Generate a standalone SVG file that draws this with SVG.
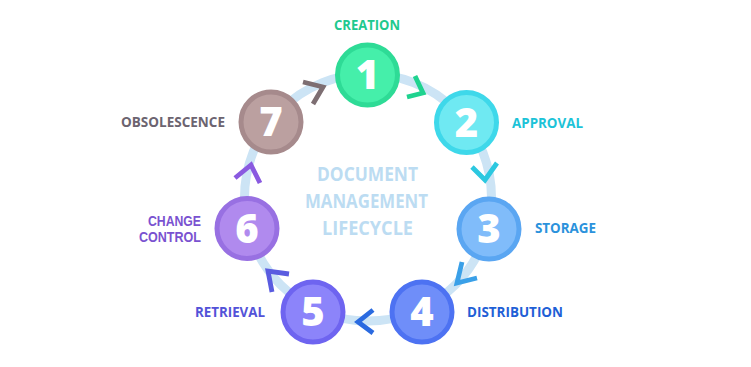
<svg xmlns="http://www.w3.org/2000/svg" width="751" height="367" viewBox="0 0 751 367">
<style>
.lbl{font-family:"Open Sans","Liberation Sans",sans-serif;font-weight:700;font-size:15px}
.lbl2{font-family:"Liberation Sans","Open Sans",sans-serif;font-weight:700;font-size:14px}
.num{font-family:"Open Sans","Liberation Sans",sans-serif;font-weight:800;font-size:40px;fill:#fff;text-anchor:middle}
.ctr{font-family:"Open Sans","Liberation Sans",sans-serif;font-weight:700;font-size:20px;fill:#bcdcf2;text-anchor:middle}
.chev{fill:none;stroke-width:4.8;stroke-linecap:butt;stroke-linejoin:miter}
.node{stroke-width:5}
</style>
<rect width="751" height="367" fill="#ffffff"/>
<g id="connectors">
<circle cx="368" cy="197.5" r="123.5" fill="none" stroke="#cce4f5" stroke-width="9"/>
<polyline class="chev" stroke="#1fd38f" points="415,76 423,93 407,97"/>
<polyline class="chev" stroke="#2cc8e0" points="472,167 485,180 497,163"/>
<polyline class="chev" stroke="#3aa0e8" points="462,262 457,283 477,278"/>
<polyline class="chev" stroke="#2a6ae0" points="373,310 358,322 373,333"/>
<polyline class="chev" stroke="#5a5ce0" points="272,292 268,271 289,274"/>
<polyline class="chev" stroke="#8a5ae0" points="235,178 251,165 260,183"/>
<polyline class="chev" stroke="#7d6e72" points="303,82 323,87 313,104"/>
</g>
<g id="center-title">
<text class="ctr" x="367.5" y="181" textLength="101" lengthAdjust="spacingAndGlyphs">DOCUMENT</text>
<text class="ctr" x="366.5" y="208" textLength="123" lengthAdjust="spacingAndGlyphs">MANAGEMENT</text>
<text class="ctr" x="367.5" y="235" textLength="91" lengthAdjust="spacingAndGlyphs">LIFECYCLE</text>
</g>
<g id="node1">
<circle class="node" cx="367.5" cy="75" r="30" fill="#45efaa" stroke="#2edb96"/>
<text class="num" x="367.5" y="89">1</text>
<text class="lbl" x="367" y="30" fill="#20c98e" text-anchor="middle" textLength="66" lengthAdjust="spacingAndGlyphs">CREATION</text>
</g>
<g id="node2">
<circle class="node" cx="466.5" cy="122.5" r="30" fill="#6fe9f2" stroke="#3ed8ea"/>
<text class="num" x="466.5" y="136.5">2</text>
<text class="lbl" x="512" y="128" fill="#1cc3d8" textLength="71" lengthAdjust="spacingAndGlyphs">APPROVAL</text>
</g>
<g id="node3">
<circle class="node" cx="489" cy="229" r="30" fill="#80bcfa" stroke="#5aa6f2"/>
<text class="num" x="489" y="243">3</text>
<text class="lbl" x="535" y="233" fill="#2b92dc" textLength="61" lengthAdjust="spacingAndGlyphs">STORAGE</text>
</g>
<g id="node4">
<circle class="node" cx="422" cy="312" r="30" fill="#6f8ef9" stroke="#4d72f2"/>
<text class="num" x="422" y="326">4</text>
<text class="lbl" x="467" y="317" fill="#1f5fd6" textLength="96" lengthAdjust="spacingAndGlyphs">DISTRIBUTION</text>
</g>
<g id="node5">
<circle class="node" cx="313" cy="312" r="30" fill="#8c84fa" stroke="#6e64f0"/>
<text class="num" x="313" y="326">5</text>
<text class="lbl" x="195" y="317" fill="#5352d8" textLength="70" lengthAdjust="spacingAndGlyphs">RETRIEVAL</text>
</g>
<g id="node6">
<circle class="node" cx="247" cy="228.5" r="30" fill="#b08aee" stroke="#9870e2"/>
<text class="num" x="247" y="242.5">6</text>
<text class="lbl2" x="201" y="226" fill="#7a52d0" text-anchor="end" textLength="53" lengthAdjust="spacingAndGlyphs">CHANGE</text>
<text class="lbl2" x="201" y="242" fill="#7a52d0" text-anchor="end" textLength="62" lengthAdjust="spacingAndGlyphs">CONTROL</text>
</g>
<g id="node7">
<circle class="node" cx="271" cy="122" r="30" fill="#bba0a0" stroke="#a68a8c"/>
<text class="num" x="271" y="136">7</text>
<text class="lbl" x="121" y="127" fill="#6c6470" textLength="104" lengthAdjust="spacingAndGlyphs">OBSOLESCENCE</text>
</g>
</svg>
